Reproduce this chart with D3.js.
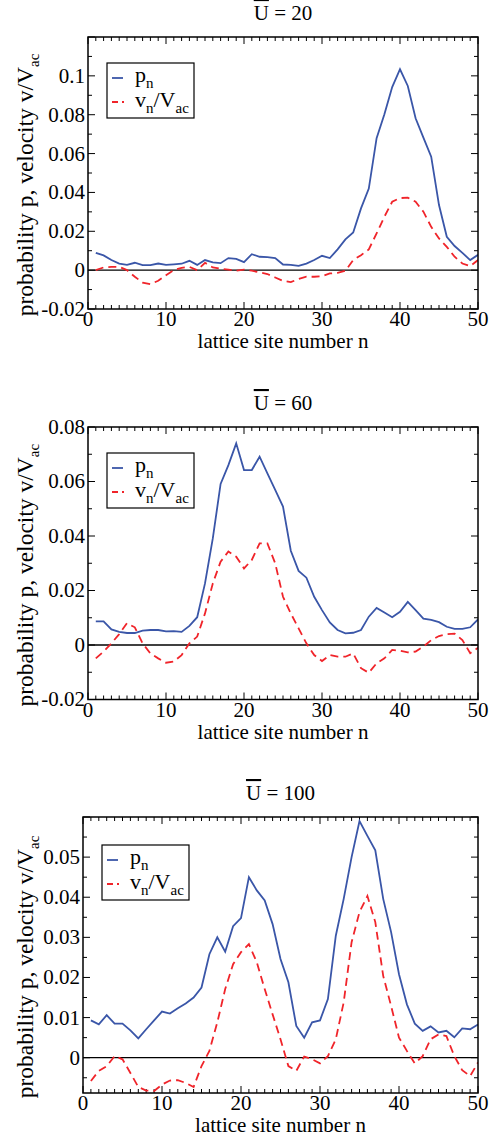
<!DOCTYPE html>
<html>
<head>
<meta charset="utf-8">
<script src="https://cdn.jsdelivr.net/npm/d3@7"></script>
<style>
html,body{margin:0;padding:0;background:#fff;}
svg{display:block;}
</style>
</head>
<body>
<svg id="chart" width="489" height="1139" font-family="'Liberation Serif', 'Times New Roman', Times, 'DejaVu Serif', serif"></svg>
<script>
// ---------- data ----------
const sites = [1,2,3,4,5,6,7,8,9,10,11,12,13,14,15,16,17,18,19,20,21,22,23,24,25,26,27,28,29,30,31,32,33,34,35,36,37,38,39,40,41,42,43,44,45,46,47,48,49,50];
const titles = ["20", "60", "100"];
const seriesNames = ["p", "v/V"];

const p20 = [0.0089,0.0076,0.0052,0.0034,0.0027,0.0038,0.0026,0.0026,0.0034,0.0027,0.0030,0.0033,0.0048,0.0027,0.0052,0.0040,0.0036,0.0062,0.0058,0.0041,0.0082,0.0069,0.0067,0.0062,0.0029,0.0027,0.0022,0.0034,0.0052,0.0074,0.0062,0.0107,0.0158,0.0194,0.0318,0.0420,0.0679,0.0802,0.0942,0.1034,0.0948,0.0782,0.0682,0.0584,0.0335,0.0172,0.0124,0.0089,0.0052,0.0079];
const v20 = [0.0000,0.0014,0.0017,0.0017,0.0000,-0.0034,-0.0064,-0.0072,-0.0055,-0.0026,0.0000,0.0012,0.0017,0.0000,0.0038,0.0014,0.0007,0.0003,-0.0003,0.0003,-0.0003,-0.0012,-0.0020,-0.0038,-0.0055,-0.0062,-0.0045,-0.0034,-0.0034,-0.0031,-0.0017,-0.0014,-0.0003,0.0052,0.0077,0.0107,0.0189,0.0275,0.0352,0.0371,0.0373,0.0352,0.0301,0.0223,0.0163,0.0120,0.0069,0.0034,0.0021,0.0052];

const p60 = [0.0087,0.0087,0.0057,0.0048,0.0044,0.0044,0.0053,0.0055,0.0055,0.0050,0.0051,0.0048,0.0070,0.0102,0.0226,0.0391,0.0591,0.0660,0.0740,0.0642,0.0642,0.0691,0.0630,0.0569,0.0508,0.0346,0.0272,0.0247,0.0177,0.0128,0.0083,0.0055,0.0043,0.0045,0.0055,0.0104,0.0136,0.0119,0.0102,0.0122,0.0158,0.0128,0.0097,0.0092,0.0084,0.0067,0.0059,0.0059,0.0065,0.0094];
const v60 = [-0.0049,-0.0024,0.0006,0.0040,0.0080,0.0065,0.0006,-0.0031,-0.0049,-0.0065,-0.0061,-0.0037,0.0006,0.0031,0.0116,0.0226,0.0306,0.0343,0.0324,0.0281,0.0312,0.0373,0.0373,0.0300,0.0177,0.0116,0.0061,0.0006,-0.0037,-0.0059,-0.0037,-0.0043,-0.0043,-0.0031,-0.0085,-0.0102,-0.0067,-0.0049,-0.0018,-0.0021,-0.0027,-0.0024,-0.0006,0.0018,0.0033,0.0040,0.0042,0.0018,-0.0030,-0.0010];

const p100 = [0.0093,0.0083,0.0106,0.0085,0.0085,0.0068,0.0048,0.0071,0.0093,0.0115,0.0110,0.0123,0.0135,0.0150,0.0175,0.0258,0.0300,0.0264,0.0328,0.0348,0.0450,0.0417,0.0392,0.0333,0.0246,0.0188,0.0079,0.0050,0.0088,0.0093,0.0146,0.0304,0.0396,0.0500,0.0590,0.0553,0.0517,0.0396,0.0313,0.0208,0.0133,0.0085,0.0067,0.0078,0.0063,0.0067,0.0051,0.0073,0.0071,0.0083];
const v100 = [-0.0058,-0.0033,-0.0021,0.0004,-0.0004,-0.0038,-0.0073,-0.0082,-0.0083,-0.0067,-0.0057,-0.0056,-0.0063,-0.0073,-0.0021,0.0017,0.0088,0.0171,0.0233,0.0263,0.0283,0.0238,0.0171,0.0108,0.0046,-0.0021,-0.0033,0.0003,-0.0004,-0.0014,0.0004,0.0046,0.0138,0.0288,0.0363,0.0403,0.0338,0.0204,0.0129,0.0050,0.0017,-0.0014,0.0004,0.0046,0.0058,0.0054,0.0004,-0.0031,-0.0046,-0.0012];

const xTicks = [0,10,20,30,40,50];
const yTicks20 = [-0.02,0,0.02,0.04,0.06,0.08,0.1];
const yTickLabels20 = ["-0.02","0","0.02","0.04","0.06","0.08","0.1"];
const yTicks60 = [-0.02,0,0.02,0.04,0.06,0.08];
const yTickLabels60 = ["-0.02","0","0.02","0.04","0.06","0.08"];
const yTicks100 = [0,0.01,0.02,0.03,0.04,0.05];
const yTickLabels100 = ["0","0.01","0.02","0.03","0.04","0.05"];

// ---------- layout ----------
const panels = [
  {title:titles[0], p:p20, v:v20, yDom:[-0.02,0.12], yMinorStep:0.01, yTicks:yTicks20, yLabels:yTickLabels20,
   left:88, right:478, top:37, bottom:309, legX:107, legY:63},
  {title:titles[1], p:p60, v:v60, yDom:[-0.02,0.08], yMinorStep:0.01, yTicks:yTicks60, yLabels:yTickLabels60,
   left:88, right:478, top:427, bottom:699.5, legX:107, legY:453},
  {title:titles[2], p:p100, v:v100, yDom:[-0.0088,0.06], yMinorStep:0.005, yTicks:yTicks100, yLabels:yTickLabels100,
   left:83, right:478, top:817, bottom:1093, legX:102, legY:845}
];

const BLUE = "#3a56a8";
const RED = "#f0242a";
const svg = d3.select("#chart");

panels.forEach(P => {
  const g = svg.append("g");
  const x = d3.scaleLinear().domain([0,50]).range([P.left, P.right]);
  const y = d3.scaleLinear().domain(P.yDom).range([P.bottom, P.top]);

  const xMinor = d3.range(0, 51, 1).filter(d => d % 10 !== 0);
  const yMinor = [], yMajorAll = [];
  const nMin = Math.ceil(P.yDom[0]/P.yMinorStep - 1e-9), nMax = Math.floor(P.yDom[1]/P.yMinorStep + 1e-9);
  for (let i = nMin; i <= nMax; i++) {
    const val = +(i*P.yMinorStep).toFixed(6);
    if (i % 2 !== 0) yMinor.push(val); else yMajorAll.push(val);
  }

  const MAJ = 7, MIN = 4;
  const tk = g.append("g").attr("stroke","#000").attr("stroke-width",1);
  xTicks.forEach(d => {
    tk.append("line").attr("x1",x(d)).attr("x2",x(d)).attr("y1",P.bottom).attr("y2",P.bottom-MAJ);
    tk.append("line").attr("x1",x(d)).attr("x2",x(d)).attr("y1",P.top).attr("y2",P.top+MAJ);
  });
  xMinor.forEach(d => {
    tk.append("line").attr("x1",x(d)).attr("x2",x(d)).attr("y1",P.bottom).attr("y2",P.bottom-MIN);
    tk.append("line").attr("x1",x(d)).attr("x2",x(d)).attr("y1",P.top).attr("y2",P.top+MIN);
  });
  yMajorAll.forEach(d => {
    tk.append("line").attr("x1",P.left).attr("x2",P.left+MAJ).attr("y1",y(d)).attr("y2",y(d));
    tk.append("line").attr("x1",P.right).attr("x2",P.right-MAJ).attr("y1",y(d)).attr("y2",y(d));
  });
  yMinor.forEach(d => {
    tk.append("line").attr("x1",P.left).attr("x2",P.left+MIN).attr("y1",y(d)).attr("y2",y(d));
    tk.append("line").attr("x1",P.right).attr("x2",P.right-MIN).attr("y1",y(d)).attr("y2",y(d));
  });

  g.append("line").attr("x1",P.left).attr("x2",P.right).attr("y1",y(0)).attr("y2",y(0))
    .attr("stroke","#000").attr("stroke-width",1.3);

  const cid = "clip" + P.title;
  svg.append("clipPath").attr("id",cid).append("rect")
    .attr("x",P.left).attr("y",P.top).attr("width",P.right-P.left).attr("height",P.bottom-P.top);

  const line = d3.line().x((d,i) => x(sites[i])).y(d => y(d));
  g.append("path").datum(P.p).attr("d",line).attr("fill","none").attr("stroke",BLUE)
    .attr("stroke-width",1.8).attr("clip-path",`url(#${cid})`);
  g.append("path").datum(P.v).attr("d",line).attr("fill","none").attr("stroke",RED)
    .attr("stroke-width",1.8).attr("stroke-dasharray","8,5").attr("clip-path",`url(#${cid})`);

  g.append("rect").attr("x",P.left).attr("y",P.top).attr("width",P.right-P.left).attr("height",P.bottom-P.top)
    .attr("fill","none").attr("stroke","#000").attr("stroke-width",1.5);

  g.selectAll(".xl").data(xTicks).enter().append("text")
    .attr("x",d => x(d)).attr("y",P.bottom+17).attr("text-anchor","middle")
    .attr("font-size",21).text(d => d);
  g.selectAll(".yl").data(P.yTicks).enter().append("text")
    .attr("x",P.left-3).attr("y",d => y(d)).attr("dy","0.33em").attr("text-anchor","end")
    .attr("font-size",21).text((d,i) => P.yLabels[i]);

  g.append("text").attr("x",(P.left+P.right)/2).attr("y",P.bottom+39).attr("text-anchor","middle")
    .attr("font-size",21).text("lattice site number n");

  const yl = g.append("text")
    .attr("transform",`translate(33,${(P.top+P.bottom)/2 + 12}) rotate(-90)`)
    .attr("text-anchor","middle").attr("font-size",23.5);
  yl.append("tspan").text("probability p, velocity v/V");
  yl.append("tspan").attr("dy",6).attr("font-size",15).text("ac");

  const tt = g.append("text").attr("x",(P.left+P.right)/2).attr("y",P.top-17).attr("text-anchor","middle")
    .attr("font-size",21);
  tt.append("tspan").attr("text-decoration","overline").text("U");
  tt.append("tspan").text(" = " + P.title);

  const lg = g.append("g");
  lg.append("rect").attr("x",P.legX).attr("y",P.legY).attr("width",87).attr("height",55)
    .attr("fill","#fff").attr("stroke","#000").attr("stroke-width",1.2);
  lg.append("line").attr("x1",P.legX+5).attr("x2",P.legX+16).attr("y1",P.legY+15).attr("y2",P.legY+15)
    .attr("stroke",BLUE).attr("stroke-width",1.8);
  lg.append("line").attr("x1",P.legX+5).attr("x2",P.legX+17).attr("y1",P.legY+39).attr("y2",P.legY+39)
    .attr("stroke",RED).attr("stroke-width",1.8).attr("stroke-dasharray","6,4");
  const t1 = lg.append("text").attr("x",P.legX+28).attr("y",P.legY+19).attr("font-size",22);
  t1.append("tspan").text(seriesNames[0]);
  t1.append("tspan").attr("dy",6).attr("font-size",15).text("n");
  const t2 = lg.append("text").attr("x",P.legX+28).attr("y",P.legY+44).attr("font-size",22);
  t2.append("tspan").text("v");
  t2.append("tspan").attr("dy",6).attr("font-size",15).text("n");
  t2.append("tspan").attr("dy",-6).text("/V");
  t2.append("tspan").attr("dy",6).attr("font-size",15).text("ac");
});
</script>
</body>
</html>
